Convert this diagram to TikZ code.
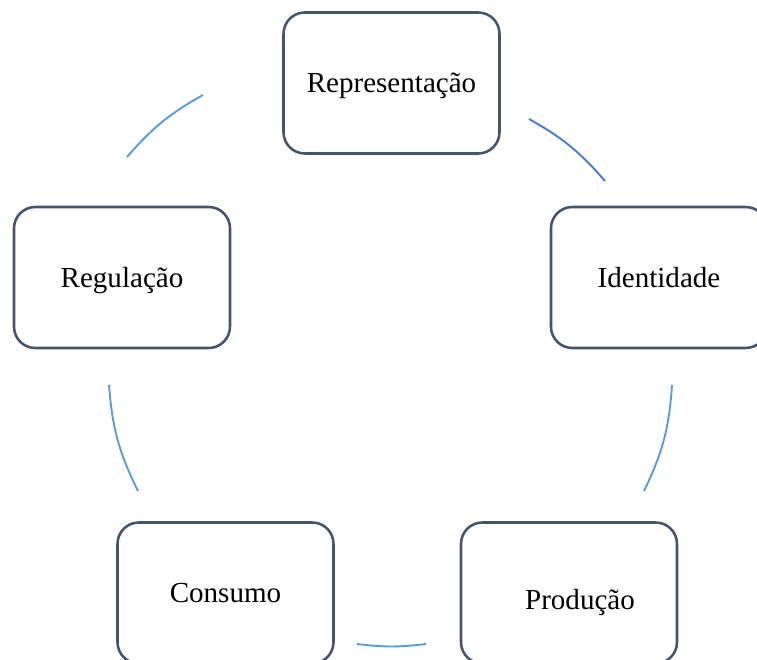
\documentclass[tikz,border=0pt]{standalone}
\usepackage{fontspec}
\setmainfont{Liberation Serif}
\usetikzlibrary{calc}
\definecolor{boxline}{HTML}{44546A}
\definecolor{arcblue}{HTML}{5B9BD5}
\definecolor{arcdark}{HTML}{4A78CC}
\tikzset{
  boxfont/.style={font=\fontsize{21.8}{26}\selectfont, text=black, text height=14.4pt, text depth=0pt},
  cyclebox/.style={draw=boxline, line width=1.9pt, rounded corners=16pt, fill=white,
    minimum width=162pt, minimum height=105.75pt, inner sep=0pt, boxfont},
  cyclearc/.style={draw=arcblue, line width=1.4pt},
}
\begin{document}
\begin{tikzpicture}[x=0.75pt,y=0.75pt]
\useasboundingbox (0,0) rectangle (757,-660);
\fill[white] (0,0) rectangle (757,-660);
\clip (0,0) rectangle (757,-660);
% boxes
\node[cyclebox] (rep) at (391.5,-83) {Representação};
\node[cyclebox] (ide) at (659,-277.5) {Identidade};
\node[cyclebox] (pro) at (569,-593) {};
\node[cyclebox] (con) at (225.5,-593) {Consumo};
\node[cyclebox] (reg) at (122,-277.5) {Regulação};
\node[boxfont, inner sep=0pt] (protext) at ($(pro)+(11,-7)$) {Produção};
% arc end points
\coordinate (tr1) at (529,-119);
\coordinate (tr2) at (605,-181);
\coordinate (r1) at (672,-385);
\coordinate (r2) at (644,-491);
\coordinate (b1) at (357,-644);
\coordinate (b2) at (426,-644);
\coordinate (l1) at (109,-385);
\coordinate (l2) at (138,-491);
\coordinate (tl1) at (127,-157);
\coordinate (tl2) at (203,-95);
% arcs
\draw[cyclearc, draw=arcdark] (tr1) to[bend left=10] (tr2);
\draw[cyclearc] (r1) to[bend left=11] (r2);
\draw[cyclearc] (b1) to[bend right=7] (b2);
\draw[cyclearc] (l1) to[bend right=11] (l2);
\draw[cyclearc] (tl1) to[bend left=10] (tl2);
\end{tikzpicture}
\end{document}
